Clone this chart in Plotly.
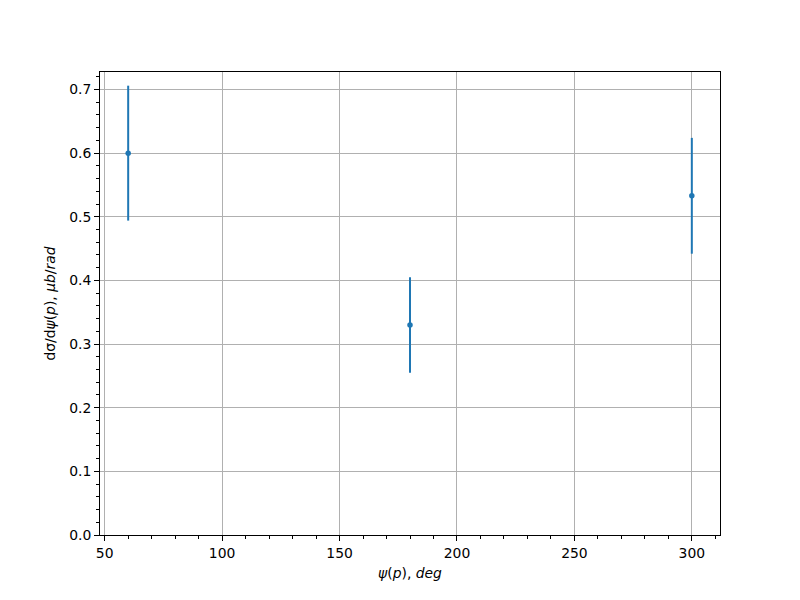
import plotly.graph_objects as go

angles = [60, 180, 300]
dsigma = [0.600, 0.330, 0.533]
errors = [0.106, 0.075, 0.091]

font = "DejaVu Sans"
fig = go.Figure()
fig.add_trace(go.Scatter(
    x=angles, y=dsigma, mode="markers",
    marker=dict(color="#1f77b4", size=5.5),
    error_y=dict(type="data", array=errors, visible=True, color="#1f77b4", thickness=2, width=0),
    showlegend=False,
))

axis_common = dict(
    showline=True, linecolor="black", linewidth=1, mirror=True,
    ticks="outside", ticklen=5, tickwidth=1, tickcolor="black",
    showgrid=True, gridcolor="#b0b0b0", gridwidth=1.1,
    zeroline=False,
    tickfont=dict(family=font, size=13.9, color="black"),
)

fig.update_xaxes(
    range=[48, 312], tickvals=[50, 100, 150, 200, 250, 300],
    minor=dict(dtick=10, tick0=0, ticks="outside", ticklen=3, tickcolor="black", showgrid=False),
    title=dict(text="<i>ψ</i>(<i>p</i>), <i>deg</i>", font=dict(family=font, size=13.9, color="black"), standoff=8),
    **axis_common,
)
fig.update_yaxes(
    range=[0, 0.7275], tickvals=[0, 0.1, 0.2, 0.3, 0.4, 0.5, 0.6, 0.7],
    ticktext=["0.0", "0.1", "0.2", "0.3", "0.4", "0.5", "0.6", "0.7"],
    minor=dict(dtick=0.02, tick0=0, ticks="outside", ticklen=3, tickcolor="black", showgrid=False),
    title=dict(text="dσ/d<i>ψ</i>(<i>p</i>), <i>μb</i>/<i>rad</i>", font=dict(family=font, size=13.9, color="black"), standoff=10),
    **axis_common,
)

fig.update_layout(
    width=800, height=600,
    margin=dict(l=92, r=88, t=64, b=73),
    paper_bgcolor="white", plot_bgcolor="white",
    font=dict(family=font, color="black"),
)

fig.write_html("out.html")
